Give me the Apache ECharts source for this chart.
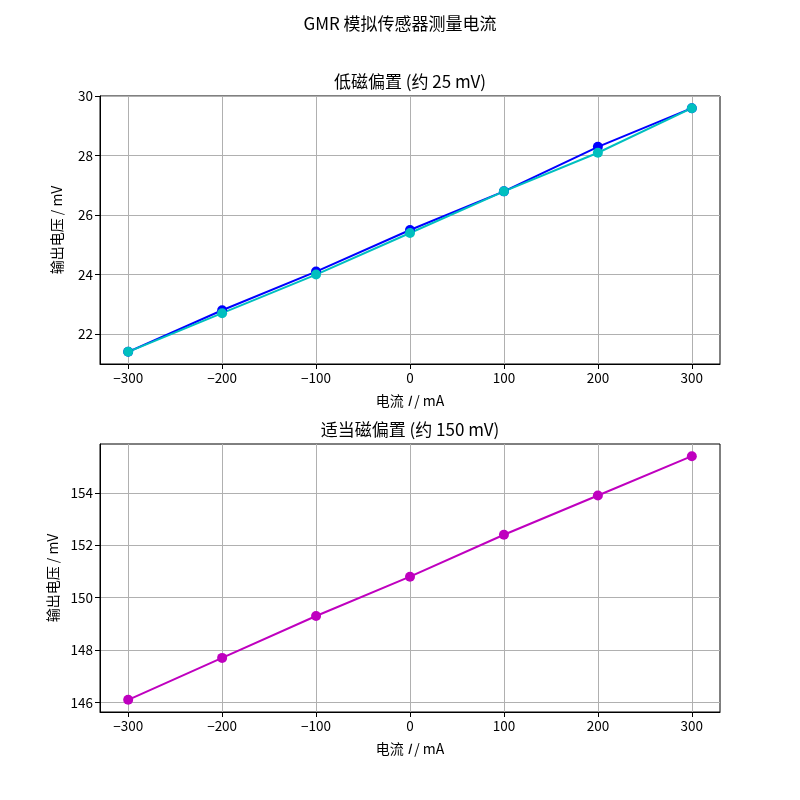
<!DOCTYPE html>
<html>
<head>
<meta charset="utf-8">
<script src="https://cdn.jsdelivr.net/npm/echarts@6/dist/echarts.min.js"></script>
<style>html,body{margin:0;padding:0;background:#fff}#c{width:800px;height:800px}</style>
</head>
<body>
<div id="c"></div>
<script>
const currents = [-300, -200, -100, 0, 100, 200, 300];
const lowBiasA = [21.4, 22.8, 24.1, 25.5, 26.8, 28.3, 29.6];
const lowBiasB = [21.4, 22.7, 24.0, 25.4, 26.8, 28.1, 29.6];
const midBias = [146.1, 147.7, 149.3, 150.8, 152.4, 153.9, 155.4];
const xTicks = [-300, -200, -100, 0, 100, 200, 300];
const yTicksTop = [22, 24, 26, 28, 30];
const yTicksBottom = [146, 148, 150, 152, 154];

const FONT = '"Noto Sans CJK SC", "Noto Sans", sans-serif';
const chart = echarts.init(document.getElementById('c'), null, {renderer: 'canvas'});

function pairs(xs, ys) { return xs.map((x, i) => [x, ys[i]]); }
function fmt(v) { return v < 0 ? '\u2212' + Math.abs(v) : String(v); }

function xAxis(gi) {
  return {
    type: 'value', gridIndex: gi, min: -330, max: 330,
    name: '{n|电流 }{i|I}{n| / mA}', nameLocation: 'middle', nameGap: 30,
    nameTextStyle: {rich: {n: {fontFamily: FONT, fontSize: 14, color: '#000'}, i: {fontFamily: FONT, fontSize: 14, fontStyle: 'italic', color: '#000'}}},
    axisLine: {show: true, onZero: false, lineStyle: {color: '#000', width: 1}},
    axisTick: {show: true, inside: false, length: 5, lineStyle: {color: '#000'}, customValues: xTicks},
    axisLabel: {show: true, customValues: xTicks, formatter: fmt, fontFamily: FONT, fontSize: 13.5, color: '#000', margin: 7},
    splitLine: {show: true, lineStyle: {color: '#b0b0b0', width: 1}}
  };
}
function yAxis(gi, min, max, ticks) {
  return {
    type: 'value', gridIndex: gi, min: min, max: max,
    name: '输出电压 / mV', nameLocation: 'middle', nameGap: 36, nameRotate: 90,
    nameTextStyle: {fontFamily: FONT, fontSize: 14, color: '#000'},
    axisLine: {show: true, onZero: false, lineStyle: {color: '#000', width: 1}},
    axisTick: {show: true, inside: false, length: 5, lineStyle: {color: '#000'}, customValues: ticks},
    axisLabel: {show: true, customValues: ticks, formatter: fmt, fontFamily: FONT, fontSize: 13.5, color: '#000', margin: 7},
    splitLine: {show: true, lineStyle: {color: '#b0b0b0', width: 1}}
  };
}
function line(name, gi, ys, color) {
  return {
    name: name, type: 'line', xAxisIndex: gi, yAxisIndex: gi,
    data: pairs(currents, ys), symbol: 'circle', symbolSize: 10, showSymbol: true,
    lineStyle: {color: color, width: 2}, itemStyle: {color: color}, animation: false
  };
}

chart.setOption({
  animation: false,
  backgroundColor: '#fff',
  title: [
    {text: 'GMR 模拟传感器测量电流', left: 395, textAlign: 'center', top: 10, textStyle: {fontFamily: FONT, fontSize: 17, fontWeight: 'normal', color: '#000'}},
    {text: '低磁偏置 (约 25 mV)', left: 405, textAlign: 'center', top: 68, textStyle: {fontFamily: FONT, fontSize: 17, fontWeight: 'normal', color: '#000'}},
    {text: '适当磁偏置 (约 150 mV)', left: 405, textAlign: 'center', top: 416, textStyle: {fontFamily: FONT, fontSize: 17, fontWeight: 'normal', color: '#000'}}
  ],
  grid: [
    {left: 100, top: 96, width: 620, height: 268, show: true, borderColor: '#000', borderWidth: 1, containLabel: false},
    {left: 100, top: 444, width: 620, height: 268, show: true, borderColor: '#000', borderWidth: 1, containLabel: false}
  ],
  xAxis: [xAxis(0), xAxis(1)],
  yAxis: [yAxis(0, 20.99, 30.01, yTicksTop), yAxis(1, 145.635, 155.865, yTicksBottom)],
  series: [
    line('低偏置 A', 0, lowBiasA, '#0000ff'),
    line('低偏置 B', 0, lowBiasB, '#00bfbf'),
    line('适当偏置', 1, midBias, '#bf00bf')
  ]
});
</script>
</body>
</html>
